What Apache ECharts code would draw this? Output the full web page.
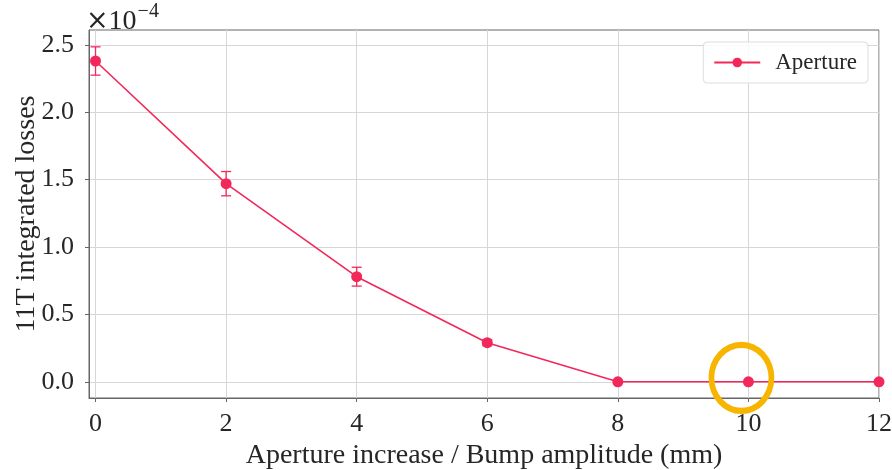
<!DOCTYPE html>
<html>
<head>
<meta charset="utf-8">
<script src="https://cdn.jsdelivr.net/npm/echarts@6/dist/echarts.min.js"></script>
<style>
  html, body { margin: 0; padding: 0; background: #fff; }
  #chart { width: 892px; height: 470px; }
</style>
</head>
<body>
<div id="chart"></div>
<script>
// Bump amplitude (mm) and 11T integrated losses (units of 1e-4)
const amplitudes = [0, 2, 4, 6, 8, 10, 12];
const losses = [2.38, 1.47, 0.78, 0.29, 0.0, 0.0, 0.0];
const lossErrors = [0.105, 0.09, 0.07, 0.022, 0.0, 0.0, 0.0];
const xTicks = [0, 2, 4, 6, 8, 10, 12];
const yTicks = [0, 0.5, 1.0, 1.5, 2.0, 2.5];
const highlightedAmplitude = 10;

const RED = '#f2285a';
const FONT = 'Liberation Serif';
const TEXT = '#262626';

const chart = echarts.init(document.getElementById('chart'), null, { renderer: 'canvas' });

const lineData = amplitudes.map((a, i) => [a, losses[i]]);
const errData = amplitudes.map((a, i) => [a, losses[i] - lossErrors[i], losses[i] + lossErrors[i]]);

function renderErrorBar(params, api) {
  const x = api.value(0);
  const lo = api.coord([x, api.value(1)]);
  const hi = api.coord([x, api.value(2)]);
  if (Math.abs(lo[1] - hi[1]) < 1) return null;
  const cap = 5;
  const style = { stroke: RED, lineWidth: 1.3, fill: null };
  return {
    type: 'group',
    children: [
      { type: 'line', shape: { x1: lo[0], y1: lo[1], x2: hi[0], y2: hi[1] }, style },
      { type: 'line', shape: { x1: lo[0] - cap, y1: lo[1], x2: lo[0] + cap, y2: lo[1] }, style },
      { type: 'line', shape: { x1: hi[0] - cap, y1: hi[1], x2: hi[0] + cap, y2: hi[1] }, style }
    ]
  };
}

const axisText = { fontFamily: FONT, fontSize: 26, color: TEXT };

chart.setOption({
  animation: false,
  backgroundColor: '#fff',
  grid: {
    left: 89, right: 13, top: 30, bottom: 72,
    outerBoundsMode: 'none',
    containLabel: false,
    show: true, borderColor: '#666', borderWidth: 1, backgroundColor: 'transparent'
  },
  legend: {
    data: ['Aperture'],
    right: 24, top: 42,
    orient: 'vertical',
    padding: [9, 11, 9, 10],
    itemWidth: 46, itemHeight: 12, itemGap: 0,
    backgroundColor: 'rgba(255,255,255,0.85)',
    borderColor: '#dddddd', borderWidth: 1, borderRadius: 4,
    textStyle: { fontFamily: FONT, fontSize: 23, color: TEXT, padding: [0, 0, 0, 10] }
  },
  graphic: [{
    type: 'text',
    left: 86, top: 2,
    style: {
      text: '{x|×}{m|10}{s|−4}',
      rich: {
        x: { fontFamily: 'DejaVu Serif', fontSize: 27, fill: TEXT, verticalAlign: 'bottom', padding: [0, 0, 1, 0] },
        m: { fontFamily: FONT, fontSize: 28, fill: TEXT, verticalAlign: 'bottom' },
        s: { fontFamily: FONT, fontSize: 20, fill: TEXT, verticalAlign: 'top', padding: [0, 0, 14, 1] }
      }
    }
  }],
  xAxis: {
    type: 'value',
    min: -0.1, max: 12,
    name: 'Aperture increase / Bump amplitude (mm)',
    nameLocation: 'middle', nameGap: 44,
    nameTextStyle: { fontFamily: FONT, fontSize: 28, color: TEXT },
    axisLine: { show: true, onZero: false, lineStyle: { color: '#666', width: 1 } },
    axisTick: { show: true, customValues: xTicks, length: 4, lineStyle: { color: '#666' } },
    axisLabel: { customValues: xTicks, margin: 13, ...axisText, formatter: v => String(v) },
    splitLine: { show: true, lineStyle: { color: '#d6d6d6', width: 1 } }
  },
  yAxis: {
    type: 'value',
    min: -0.12, max: 2.61,
    name: '11T integrated losses',
    nameLocation: 'middle', nameGap: 48,
    nameMoveOverlap: false,
    nameRotate: 90,
    nameTextStyle: { fontFamily: FONT, fontSize: 28, color: TEXT },
    axisLine: { show: true, onZero: false, lineStyle: { color: '#666', width: 1 } },
    axisTick: { show: true, customValues: yTicks, length: 4, lineStyle: { color: '#666' } },
    axisLabel: { customValues: yTicks, margin: 15, ...axisText, formatter: v => v.toFixed(1) },
    splitLine: { show: true, lineStyle: { color: '#d6d6d6', width: 1 } }
  },
  series: [
    {
      name: 'Aperture',
      type: 'line',
      data: lineData,
      symbol: 'circle',
      symbolSize: 11,
      clip: false,
      itemStyle: { color: RED },
      lineStyle: { color: RED, width: 1.6 },
      z: 3,
      markPoint: {
        silent: true,
        symbol: 'circle',
        symbolSize: [60, 66],
        symbolOffset: [-7, -4],
        itemStyle: { color: 'transparent', borderColor: '#f7b500', borderWidth: 6 },
        label: { show: false },
        data: [{ coord: [highlightedAmplitude, 0] }]
      }
    },
    {
      name: 'err',
      type: 'custom',
      renderItem: renderErrorBar,
      data: errData,
      encode: { x: 0, y: [1, 2] },
      z: 2
    }
  ]
});
</script>
</body>
</html>
